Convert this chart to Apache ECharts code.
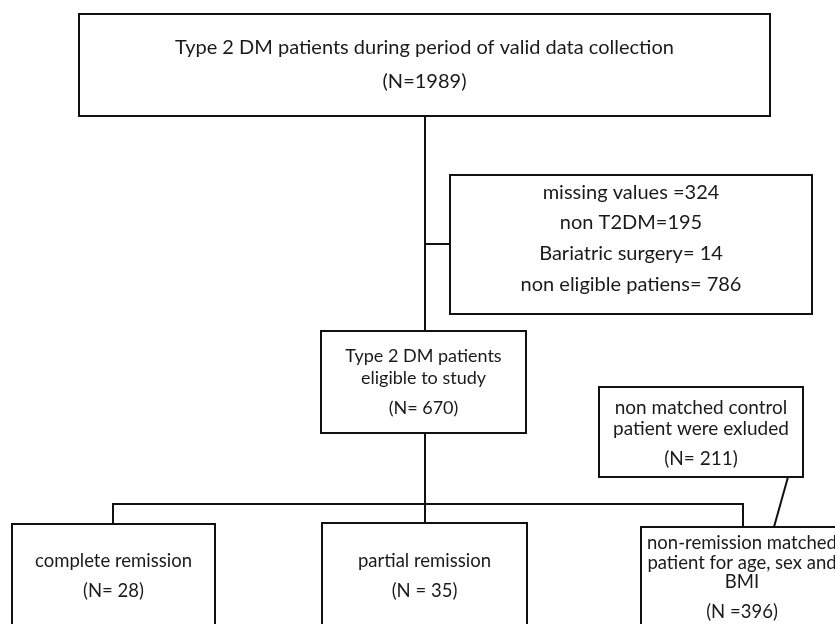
<!DOCTYPE html>
<html>
<head>
<meta charset="utf-8">
<script src="https://cdn.jsdelivr.net/npm/echarts@6/dist/echarts.min.js"></script>
<style>
html, body { margin: 0; padding: 0; background: #fff; }
#flowChart { width: 835px; height: 624px; }
</style>
</head>
<body>
<div id="flowChart"></div>
<script>
// box texts (one array per box)
var topBoxText = ['Type 2 DM patients during period of valid data collection', '(N=1989)'];
var excludedText = ['missing values =324', 'non T2DM=195', 'Bariatric surgery= 14', 'non eligible patiens= 786'];
var eligibleText = ['Type 2 DM patients', 'eligible to study', '(N= 670)'];
var nonMatchedText = ['non matched control', 'patient were exluded', '(N= 211)'];
var completeText = ['complete remission', '(N= 28)'];
var partialText = ['partial remission', '(N = 35)'];
var nonRemissionText = ['non-remission matched', 'patient for age, sex and', 'BMI', '(N =396)'];

// layout in axis units (x0, y0, x1, y1), text line centres, font size
var boxLayout = [
	{ text: topBoxText, rect: [79, 14, 770, 116], lineY: [48, 82], size: 20 },
	{ text: excludedText, rect: [450, 175, 812, 314], lineY: [193, 223, 254, 285], size: 20 },
	{ text: eligibleText, rect: [321, 331, 526, 433], lineY: [356, 378, 408], size: 18 },
	{ text: nonMatchedText, rect: [599, 387, 803, 477], lineY: [408, 429, 459], size: 19 },
	{ text: completeText, rect: [12, 524, 215, 660], lineY: [561, 591], size: 18.5 },
	{ text: partialText, rect: [322, 523, 527, 660], lineY: [561, 591], size: 18.5 },
	{ text: nonRemissionText, rect: [641, 527, 843, 660], lineY: [543, 563, 582, 612], size: 18.5 }
];

// connector paths
var connectors = [
	[[425, 116], [425, 331]],
	[[425, 244], [450, 244]],
	[[425, 433], [425, 523]],
	[[113, 524], [113, 504], [743, 504], [743, 527]],
	[[788, 477], [774, 527]]
];

var myChart = echarts.init(document.getElementById('flowChart'));
var option = {
	animation: false,
	grid: { left: 0, right: 0, top: 0, bottom: 0 },
	xAxis: { type: 'value', min: 0, max: 835, show: false },
	yAxis: { type: 'value', min: 0, max: 624, inverse: true, show: false },
	series: [
		{
			type: 'lines',
			coordinateSystem: 'cartesian2d',
			polyline: true,
			silent: true,
			lineStyle: { color: '#111', width: 2, opacity: 1 },
			data: connectors.map(function(c) { return { coords: c }; })
		},
		{
			type: 'custom',
			silent: true,
			clip: false,
			data: boxLayout.map(function(b, i) { return [i]; }),
			renderItem: function(params, api) {
				var b = boxLayout[api.value(0)];
				var p0 = api.coord([b.rect[0], b.rect[1]]);
				var p1 = api.coord([b.rect[2], b.rect[3]]);
				var cx = (p0[0] + p1[0]) / 2;
				var children = [{
					type: 'rect',
					shape: { x: p0[0], y: p0[1], width: p1[0] - p0[0], height: p1[1] - p0[1] },
					style: { fill: '#fff', stroke: '#111', lineWidth: 2 }
				}];
				b.text.forEach(function(t, j) {
					var p = api.coord([0, b.lineY[j]]);
					children.push({
						type: 'text',
						style: {
							x: cx, y: p[1], text: t,
							align: 'center', verticalAlign: 'middle',
							font: b.size + 'px Lato', fill: '#1a1a1a'
						}
					});
				});
				return { type: 'group', children: children };
			}
		}
	]
};
myChart.setOption(option);
</script>
</body>
</html>
